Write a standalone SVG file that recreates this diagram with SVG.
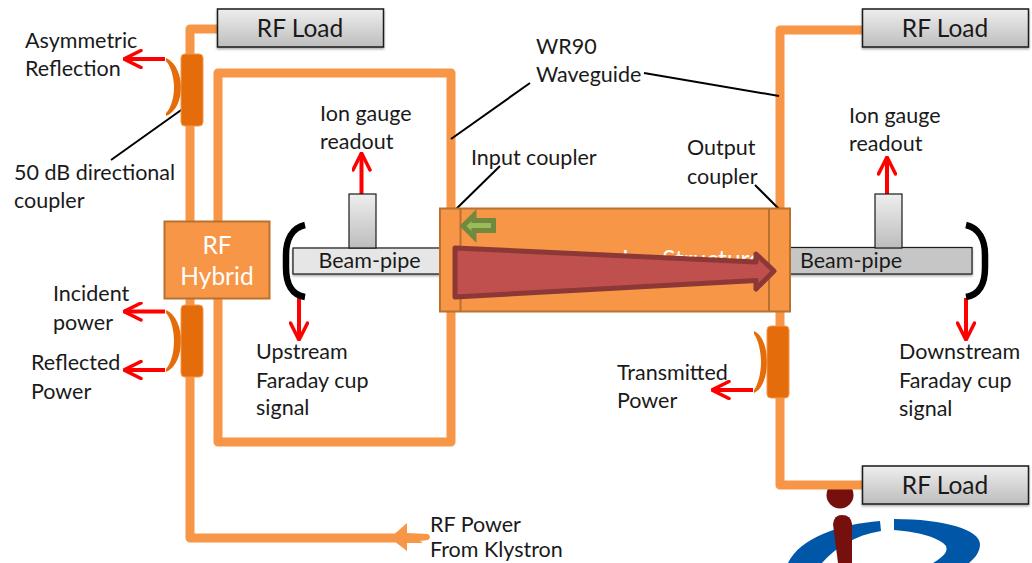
<svg xmlns="http://www.w3.org/2000/svg" width="1032" height="563" viewBox="0 0 1032 563">
<defs>
<linearGradient id="g" x1="0" y1="0" x2="0" y2="1"><stop offset="0" stop-color="#eeeeee"/><stop offset="1" stop-color="#bdbdbd"/></linearGradient>
<filter id="sh" x="-5%" y="-10%" width="110%" height="125%"><feDropShadow dx="0" dy="1.5" stdDeviation="1.2" flood-color="#000" flood-opacity=".35"/></filter>
<marker id="red" viewBox="0 0 20 20" refX="19" refY="10" markerWidth="20" markerHeight="20" markerUnits="userSpaceOnUse" orient="auto"><path d="M2 1.500 L19 10 L2 18.500" fill="none" stroke="#fe0000" stroke-width="3.500" stroke-linecap="round"/></marker>
</defs>
<style>
text{font-family:"Lato","Carlito","Open Sans",sans-serif;font-size:21.500px;fill:#1a1a1a}
.wg{fill:none;stroke:#f79646;stroke-width:9;stroke-linejoin:round}
.rd{fill:none;stroke:#fe0000;stroke-width:4;marker-end:url(#red)}
.ln{fill:none;stroke:#000;stroke-width:2}
.cp{fill:#e46c0a;stroke:#f79646;stroke-width:1}
.arc{fill:#e46c0a}
.load{fill:url(#g);stroke:#1a1a1a;stroke-width:1.500;filter:url(#sh)}
.post{fill:url(#g);stroke:#1a1a1a;stroke-width:1.200}
.br{fill:none;stroke:#000;stroke-width:6.500;stroke-linecap:butt}
.c{text-anchor:middle}
.w{fill:#fff}
.big{font-size:24.500px}
</style>
<g id="logo">
<path d="M788 563 C800 538 840 524 880 521 L881 531 C855 535 835 548 822 563 Z" fill="#0057a8"/>
<path d="M894 519 C945 519 980 530 980 544 C980 552 975 558 969 563 L933 563 C945 556 948 551 946 546 C940 538 920 532 894 530 Z" fill="#0057a8"/>
<circle cx="840" cy="495" r="13.500" fill="#76100d"/>
<path d="M833 524 Q834 515 842 515 Q851 515 852 524 L852 563 L838 563 Z" fill="#76100d"/>
</g>
<g id="connectors">
<path class="wg" d="M190 222V29H218"/>
<path class="wg" d="M190 298V538H405"/>
<path class="wg" d="M218 222V73H451V209"/>
<path class="wg" d="M218 298V442H451V312"/>
<path class="wg" d="M862 30H780V209"/>
<path class="wg" d="M780 312V485H862"/>
<path d="M390 538 L407 523 L407 533 L428 534 Q432 537 428 540 L420 541 L423 543 L407 543 L407 551 Z" fill="#f79646"/>
<path class="ln" d="M111 160 L191 103"/>
<path class="ln" d="M451 139 L530 83"/>
<path class="ln" d="M451 214 L500 166"/>
<path class="ln" d="M755 185 L779 209"/>
<path class="ln" d="M644 73 L779 96"/>
<path class="rd" d="M165 59H124"/>
<path class="rd" d="M165 311.500H124"/>
<path class="rd" d="M165 370H124"/>
<path class="rd" d="M361.500 194V153"/>
<path class="rd" d="M887 194V157"/>
<path class="rd" d="M299 298V340"/>
<path class="rd" d="M966 298V340"/>
<path class="rd" d="M753 390H712"/>
</g>
<g id="load1"><rect class="load" x="217.500" y="9" width="166" height="38"/><text class="c big" x="300" y="37">RF Load</text></g>
<g id="load2"><rect class="load" x="862.500" y="9" width="166" height="38"/><text class="c big" x="945" y="37">RF Load</text></g>
<g id="load3"><rect class="load" x="862.500" y="466" width="166" height="38"/><text class="c big" x="945" y="494">RF Load</text></g>
<g id="coupler1"><path class="arc" d="M166 58 C176 62 181 76 181 87 C181 100 176 112 166 116 L166 113 C171 108 174 98 174 87 C174 78 171 66 166 61 Z"/><rect class="cp" x="181" y="54" width="22" height="72" rx="4"/></g>
<g id="coupler2"><path class="arc" d="M166 310 C176 314 181 328 181 341 C181 354 176 368 166 372 L166 369 C171 364 174 352 174 341 C174 330 171 318 166 313 Z"/><rect class="cp" x="181" y="305" width="22" height="72" rx="4"/></g>
<g id="coupler3"><path class="arc" d="M754 331 C763 335 767 349 767 362 C767 375 763 389 754 393 L754 390 C758 385 761 373 761 362 C761 351 758 339 754 334 Z"/><rect class="cp" x="767" y="326" width="22" height="72" rx="4"/></g>
<g id="hybrid"><rect x="164.500" y="221.500" width="105" height="77" fill="#f79646" stroke="#b9712f" stroke-width="2"/><text class="c w big" x="217" y="254">RF</text><text class="c w big" x="217" y="285">Hybrid</text></g>
<g id="pipe-left"><rect x="293" y="248" width="148" height="26" fill="#e6e6e6" stroke="#1a1a1a" stroke-width="1.200" filter="url(#sh)"/><rect class="post" x="349" y="194" width="27" height="54"/><path class="br" d="M305 225 C292 228 286 240 286 255 V268 C286 284 292 295 305 297"/><text class="c" x="369.500" y="268">Beam-pipe</text></g>
<g id="pipe-right"><rect x="790" y="247.500" width="182" height="26.500" fill="#c6c6c6" stroke="#1a1a1a" stroke-width="1.200" filter="url(#sh)"/><rect class="post" x="875" y="194" width="27" height="54"/><path class="br" d="M966 225 C979 228 985 240 985 255 V268 C985 284 979 295 966 297"/><text class="c" x="851" y="268">Beam-pipe</text></g>
<g id="structure">
<rect x="440" y="208.500" width="350" height="103" fill="#f79646" stroke="#b9712f" stroke-width="2"/>
<path d="M460.500 209V311M769 209V311" stroke="#b9712f" stroke-width="2" fill="none"/>
<text class="w big" x="622" y="268">Ion Structure</text>
<path d="M463 226 L474 215 V220.500 H493.500 V230.500 H474 V237 Z" fill="#9bbb59" stroke="#71893f" stroke-width="5"/>
<path d="M455 248 L756 262 V254 L774 271 L756 289 V280.500 L455 297 Z" fill="#c0504d" stroke="#8c3836" stroke-width="5" stroke-linejoin="round"/>
</g>
<g id="labels">
<text x="25" y="48">Asymmetric</text><text x="25" y="76">Reflection</text>
<text x="14" y="180">50 dB directional</text><text x="14" y="208">coupler</text>
<text x="53" y="301">Incident</text><text x="53" y="330">power</text>
<text x="31" y="370">Reflected</text><text x="31" y="399">Power</text>
<text x="320" y="121">Ion gauge</text><text x="320" y="149">readout</text>
<text x="849" y="123">Ion gauge</text><text x="849" y="151">readout</text>
<text x="536" y="54">WR90</text><text x="536" y="82">Waveguide</text>
<text x="471" y="165">Input coupler</text>
<text x="687" y="155">Output</text><text x="687" y="184">coupler</text>
<text x="256" y="359">Upstream</text><text x="256" y="388">Faraday cup</text><text x="256" y="415">signal</text>
<text x="899" y="359">Downstream</text><text x="899" y="388">Faraday cup</text><text x="899" y="416">signal</text>
<text x="617" y="380">Transmitted</text><text x="617" y="408">Power</text>
<text x="430" y="532">RF Power</text><text x="430" y="557">From Klystron</text>
</g>
</svg>
